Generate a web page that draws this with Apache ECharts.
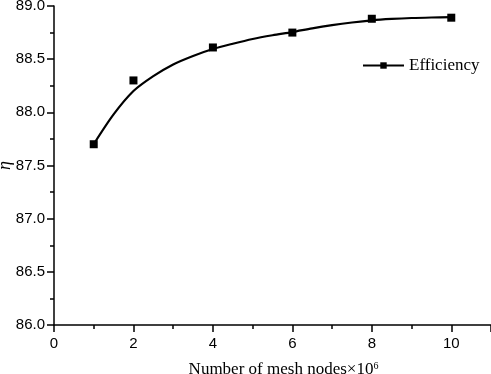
<!DOCTYPE html>
<html><head><meta charset="utf-8">
<script src="https://cdn.jsdelivr.net/npm/echarts@6/dist/echarts.min.js"></script>
<style>html,body{margin:0;padding:0;background:#fff}#c{width:491px;height:374px}</style>
</head><body><div id="c"></div>
<script>
// measured points
var meshNodes = [1, 2, 4, 6, 8, 10];
var efficiency = [87.70, 88.30, 88.61, 88.75, 88.88, 88.89];
// fitted curve
var curveX = [1, 1.5, 2, 2.5, 3, 3.5, 4, 4.5, 5, 5.5, 6, 6.5, 7, 7.5, 8, 8.5, 9, 9.5, 10];
var curveY = [87.70, 87.98, 88.20, 88.34, 88.45, 88.53, 88.595, 88.645, 88.69, 88.725, 88.755, 88.79, 88.82, 88.845, 88.865, 88.878, 88.887, 88.892, 88.895];
var xTicks = [0, 2, 4, 6, 8, 10];
var yTicks = [86.0, 86.5, 87.0, 87.5, 88.0, 88.5, 89.0];

var chart = echarts.init(document.getElementById('c'));
chart.setOption({
  animation: false,
  backgroundColor: '#fff',
  grid: {left: 54, right: 0, top: 6, bottom: 49, containLabel: false, outerBoundsMode: 'none'},
  legend: {
    data: ['Efficiency'], left: 357, top: 52, itemWidth: 41, itemHeight: 8, itemGap: 4,
    textStyle: {fontFamily: 'Liberation Serif', fontSize: 17, color: '#000'},
    lineStyle: {opacity: 1, width: 2, color: '#000'}
  },
  xAxis: {
    type: 'value', min: 0, max: 11, interval: 2,
    name: 'Number of mesh nodes×10{s|6}', nameLocation: 'middle', nameGap: 36, nameMoveOverlap: false,
    nameTextStyle: {fontFamily: 'Liberation Serif', fontSize: 17, color: '#000', padding: [0, 0, 0, 22],
      rich: {s: {fontFamily: 'Liberation Serif', fontSize: 10, verticalAlign: 'top', padding: [0,0,8,0]}}},
    axisLine: {lineStyle: {color: '#000', width: 1.5}},
    axisTick: {inside: false, length: 7, lineStyle: {color: '#000', width: 1.5}},
    minorTick: {show: true, splitNumber: 2, length: 4, lineStyle: {color: '#000', width: 1.5}},
    splitLine: {show: false},
    axisLabel: {fontFamily: 'Liberation Sans', fontSize: 15, color: '#000', margin: 11,
      formatter: function (v) { return xTicks.indexOf(v) >= 0 ? String(v) : ''; }}
  },
  yAxis: {
    type: 'value', min: 86, max: 89, interval: 0.5,
    name: 'η', nameLocation: 'middle', nameGap: 40, nameMoveOverlap: false,
    nameTextStyle: {fontFamily: 'Liberation Serif', fontStyle: 'italic', fontSize: 18, color: '#000'},
    axisLine: {show: true, lineStyle: {color: '#000', width: 1.5}},
    axisTick: {show: true, inside: false, length: 7, lineStyle: {color: '#000', width: 1.5}},
    minorTick: {show: true, splitNumber: 2, length: 4, lineStyle: {color: '#000', width: 1.5}},
    splitLine: {show: false},
    axisLabel: {fontFamily: 'Liberation Sans', fontSize: 15, color: '#000', margin: 9,
      formatter: function (v) { return v.toFixed(1); }}
  },
  series: [
    {
      type: 'line', name: 'curve', smooth: 0.3, showSymbol: false, silent: true,
      data: curveX.map(function (x, i) { return [x, curveY[i]]; }),
      lineStyle: {color: '#000', width: 2.2}
    },
    {
      type: 'line', name: 'Efficiency', symbol: 'rect', symbolSize: 8,
      data: meshNodes.map(function (x, i) { return [x, efficiency[i]]; }),
      itemStyle: {color: '#000'},
      lineStyle: {opacity: 0, color: '#000', width: 2}
    }
  ]
});
</script></body></html>
